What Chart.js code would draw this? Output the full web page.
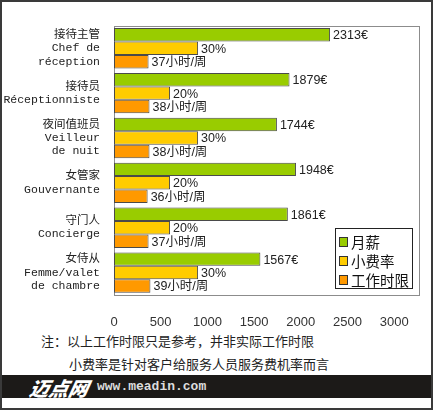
<!DOCTYPE html>
<html>
<head>
<meta charset="utf-8">
<script src="https://cdn.jsdelivr.net/npm/chart.js@4"></script>
<style>
  html, body { margin: 0; padding: 0; background: #fff; }
  #wrap { position: relative; width: 433px; height: 410px; overflow: hidden; }
  #frame { position: absolute; left: 0; top: 0; width: 429px; height: 406px; border: 2px solid #3a3a3a; }
  #chartBox { position: absolute; left: 0; top: 0; width: 433px; height: 330px; }
  .note { position: absolute; font-family: "Noto Sans CJK SC", sans-serif; font-size: 13px; color: #222; white-space: nowrap; }
  #banner { position: absolute; left: 2px; top: 375px; width: 429px; height: 23px; background: #1c1a18; }
  #logo { position: absolute; left: 28px; top: -2px; font-family: "Noto Sans CJK SC", sans-serif; font-weight: 900; font-style: italic; font-size: 19.5px; color: #fff; transform: skewX(-12deg); }
  #url { position: absolute; left: 95px; top: 4px; font-family: "Liberation Mono", monospace; font-weight: bold; font-size: 13px; color: #ddd; }
</style>
</head>
<body>
<div id="wrap">
  <div id="chartBox"><canvas id="salaryChart" width="433" height="330"></canvas></div>
  <div class="note" style="left:41px; top:331px;">注：以上工作时限只是参考，并非实际工作时限</div>
  <div class="note" style="left:69px; top:354px;">小费率是针对客户给服务人员服务费机率而言</div>
  <div id="banner"><span id="logo">迈点网</span><span id="url">www.meadin.com</span></div>
  <div id="frame"></div>
</div>
<script>
const jobsZh = ["接待主管", "接待员", "夜间值班员", "女管家", "守门人", "女侍从"];
const jobsFr = [["Chef de", "réception"], ["Réceptionniste"], ["Veilleur", "de nuit"], ["Gouvernante"], ["Concierge"], ["Femme/valet", "de chambre"]];
const salary = [2313, 1879, 1744, 1948, 1861, 1567];
const tipRate = [30, 20, 30, 20, 20, 30];
const hours = [37, 38, 38, 36, 37, 39];
const xTicks = [0, 500, 1000, 1500, 2000, 2500, 3000];

// the original draws rate and hours on the salary axis, stretched
const RATE_SCALE = 30;
const HOURS_SCALE = 10;

const labels = jobsZh.map((zh, i) => [zh].concat(jobsFr[i]));

const valueLabels = [
    salary.map(v => v + "€"),
    tipRate.map(v => v + "%"),
    hours.map(v => v + "小时/周")
];

const barText = {
    id: "barText",
    afterDatasetsDraw(chart) {
        const ctx = chart.ctx;
        ctx.save();
        ctx.font = "12.5px 'Liberation Sans', 'Noto Sans CJK SC', sans-serif";
        ctx.fillStyle = "#222";
        ctx.textBaseline = "middle";
        chart.data.datasets.forEach((ds, di) => {
            chart.getDatasetMeta(di).data.forEach((bar, i) => {
                ctx.fillText(valueLabels[di][i], bar.x + 3, bar.y + 1);
            });
        });
        ctx.restore();
    }
};

const plotBox = {
    id: "plotBox",
    beforeDatasetsDraw(chart) {
        const a = chart.chartArea;
        const ctx = chart.ctx;
        ctx.save();
        ctx.strokeStyle = "#8c8c8c";
        ctx.lineWidth = 1;
        ctx.strokeRect(Math.round(a.left) + 0.5, Math.round(a.top) + 0.5, Math.round(a.right - a.left), Math.round(a.bottom - a.top));
        ctx.restore();
    }
};

const boxLegend = {
    id: "boxLegend",
    afterDraw(chart) {
        const ctx = chart.ctx;
        const x = 335, y = 228, w = 77, h = 60;
        ctx.save();
        ctx.fillStyle = "#fff";
        ctx.fillRect(x, y, w, h);
        ctx.strokeStyle = "#222";
        ctx.lineWidth = 1;
        ctx.strokeRect(x + 0.5, y + 0.5, w, h);
        ctx.font = "14.5px 'Noto Sans CJK SC', sans-serif";
        ctx.textBaseline = "middle";
        chart.data.datasets.forEach((ds, i) => {
            const cy = y + 13 + i * 19;
            ctx.fillStyle = ds.backgroundColor;
            ctx.fillRect(x + 4, cy - 4, 8, 9);
            ctx.strokeStyle = "#333";
            ctx.strokeRect(x + 4.5, cy - 3.5, 8, 9);
            ctx.fillStyle = "#111";
            ctx.fillText(ds.label, x + 16, cy + 1);
        });
        ctx.restore();
    }
};

const ctx = document.getElementById("salaryChart").getContext("2d");
window.myChart = new Chart(ctx, {
    type: "bar",
    data: {
        labels: labels,
        datasets: [
            { label: "月薪", data: salary, backgroundColor: "#99cc00" },
            { label: "小费率", data: tipRate.map(v => v * RATE_SCALE), backgroundColor: "#ffcc00" },
            { label: "工作时限", data: hours.map(v => v * HOURS_SCALE), backgroundColor: "#ff9900" }
        ]
    },
    options: {
        indexAxis: "y",
        responsive: false,
        animation: false,
        devicePixelRatio: 1,
        layout: { padding: { top: 12, right: 14, left: 2, bottom: 0 } },
        datasets: {
            bar: {
                borderColor: "#4a4a4a",
                borderWidth: 1,
                borderSkipped: false,
                categoryPercentage: 0.9,
                barPercentage: 1.0
            }
        },
        plugins: {
            legend: { display: false },
            tooltip: { enabled: false }
        },
        scales: {
            x: {
                min: 0,
                max: 3265,
                grid: { display: false },
                border: { display: false },
                afterBuildTicks(scale) {
                    scale.ticks = xTicks.map(v => ({ value: v }));
                },
                afterFit(scale) { scale.height = 35; },
                ticks: {
                    padding: 12,
                    color: "#333",
                    font: { family: "'Liberation Sans', sans-serif", size: 13 },
                    callback: v => String(v)
                }
            },
            y: {
                grid: { display: false },
                border: { display: false },
                afterFit(scale) { scale.width = 112; },
                ticks: {
                    padding: 6,
                    color: "#222",
                    font: { family: "'Liberation Mono', 'Noto Sans CJK SC', monospace", size: 11.5, lineHeight: 1.15 }
                }
            }
        }
    },
    plugins: [plotBox, barText, boxLegend]
});
</script>
</body>
</html>
